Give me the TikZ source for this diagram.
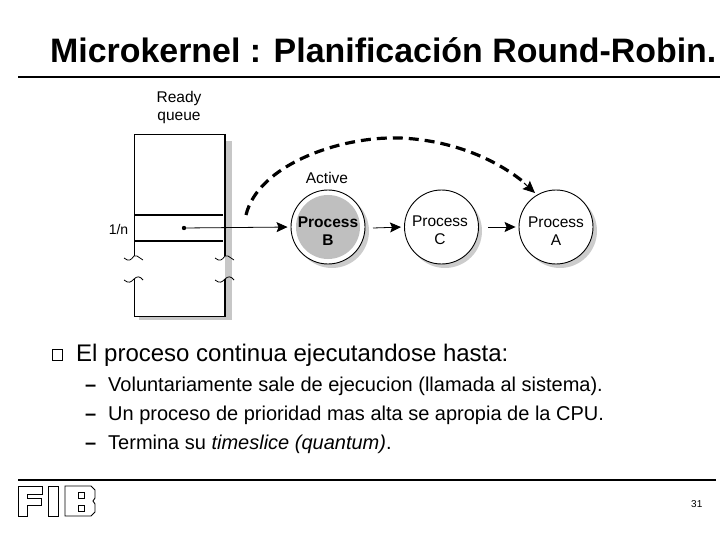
\documentclass[tikz,border=0pt]{standalone}
\usepackage{fontspec}
\setmainfont{Liberation Sans}
\usetikzlibrary{arrows.meta}
\tikzset{x=1pt,y=-1pt,
 lbl/.style={inner sep=0pt,anchor=center,font=\fontsize{15.5}{17}\selectfont,align=center},
 txt/.style={inner sep=0pt,anchor=base west},
 proc/.style={circle,draw=black,line width=0.9pt,minimum size=74pt,inner sep=0pt,fill=white},
 shad/.style={circle,fill=black!20,minimum size=74pt,inner sep=0pt},
 conn/.style={line width=0.8pt,shorten >=3pt,-{Stealth[length=11pt,width=10pt,inset=2pt]}},
 rulel/.style={line width=1.6pt},
 shadow/.style={fill=black!22,draw=none},
 logo/.style={draw=black,line width=0.9pt,fill=white}}
\begin{document}
\begin{tikzpicture}
\useasboundingbox (0,0) rectangle (720,540);
\node[txt,font=\fontsize{33.9}{36}\selectfont\bfseries] (title) at (50,63) {Microkernel : Planificación Round-Robin.};
\draw[rulel] (18,77) -- (720,77);
\draw[rulel] (18,480) -- (716,480);
% queue
\node[lbl] (rq) at (179,107) {Ready\\[1pt]queue};
\fill[shadow] (225,141) rectangle (232,320);
\fill[shadow] (139,316) rectangle (232,320);
\draw[line width=0.9pt] (134,256) -- (134,134) -- (225,134);
\draw[line width=1.6pt] (225,134) -- (225,256);
\draw[line width=0.9pt] (134,279) -- (134,316.5) -- (225,316.5);
\draw[line width=1.6pt] (225,279) -- (225,316.5);
\draw[line width=1.4pt] (135,215) -- (223,215);
\draw[line width=1.4pt] (135,241) -- (223,241);
\draw[line width=0.8pt] (124,258) .. controls (129,262) and (131,260) .. (134,256) -- (137,256) -- (143,260);
\draw[line width=0.8pt] (124,280) .. controls (129,284) and (131,282) .. (134,279) .. controls (137,276) and (140,276) .. (143,280);
\draw[line width=0.8pt] (215,258) .. controls (220,262) and (222,260) .. (225,256) -- (228,256) -- (234,260);
\draw[line width=0.8pt] (215,280) .. controls (220,284) and (222,282) .. (225,279) .. controls (228,276) and (231,276) .. (234,280);
\node[lbl,font=\fontsize{14}{16}\selectfont] (tn) at (118.5,229) {1/n};
% processes
\node[shad] (sb) at (332,231) {};
\node[shad] (sc) at (445,231) {};
\node[shad] (sa) at (560,231) {};
\node[proc] (B) at (328,227) {};
\fill[black!25] (B) circle (32);
\node[lbl,font=\fontsize{15.5}{17}\selectfont\bfseries] (Bt) at (328,231) {Process\\[1pt]B};
\node[proc] (C) at (441.5,227) {};
\node[lbl] (Ct) at (440,230) {Process\\[1pt]C};
\node[proc] (A) at (556,227) {};
\node[lbl] (At) at (556,231) {Process\\[1pt]A};
\node[lbl] (act) at (327,178) {Active};
\fill (184,228) circle (2.2);
\coordinate (dotc) at (184,228);
\draw[conn] (dotc) -- (B.west);
\coordinate (bc) at (373,228);
\draw[conn] (bc) -- (C.west);
\coordinate (cc) at (488,227);
\draw[conn] (cc) -- (A.west);
\coordinate (as) at (246,215);
\draw[line width=3.2pt,dash pattern=on 10pt off 6pt] (as) .. controls (258,165) and (340,136) .. (400,138) .. controls (450,140) and (495,158) .. (526,184);
\coordinate (ae) at (535,193);
\coordinate (as2) at (524,183);
\draw[line width=1pt,-{Stealth[length=12pt,width=11pt,inset=2pt]}] (as2) -- (ae);
% text
\draw[line width=1pt] (52.5,349.5) rectangle (62.5,360.5);
\node[txt,font=\fontsize{24}{28}\selectfont] (t0) at (76,361) {El proceso continua ejecutandose hasta:};
\node[txt,font=\fontsize{20}{24}\selectfont\bfseries] (d1) at (85,391) {–};
\node[txt,font=\fontsize{20}{24}\selectfont] (t1) at (108,391) {Voluntariamente sale de ejecucion (llamada al sistema).};
\node[txt,font=\fontsize{20}{24}\selectfont\bfseries] (d2) at (85,420) {–};
\node[txt,font=\fontsize{20}{24}\selectfont] (t2) at (108,420) {Un proceso de prioridad mas alta se apropia de la CPU.};
\node[txt,font=\fontsize{20}{24}\selectfont\bfseries] (d3) at (85,449) {–};
\node[txt,font=\fontsize{20}{24}\selectfont] (t3) at (108,449) {Termina su \textit{timeslice (quantum)}.};
\node[txt,font=\fontsize{10}{12}\selectfont] (pg) at (691,507) {31};
% logo
\draw[logo] (18,486) -- (42,486) -- (42,494) -- (27,494) -- (27,498) -- (41,498) -- (41,505) -- (27,505) -- (27,516) -- (18,516) -- cycle;
\draw[logo] (48,486) rectangle (58,516);
\draw[logo] (65,486) -- (91,486) -- (95,490) -- (95,498) -- (93,501) -- (95,504) -- (95,512) -- (91,516) -- (65,516) -- cycle;
\draw[logo] (78,492) rectangle (84,498);
\draw[logo] (78,505) rectangle (84,511);
\end{tikzpicture}
\end{document}
